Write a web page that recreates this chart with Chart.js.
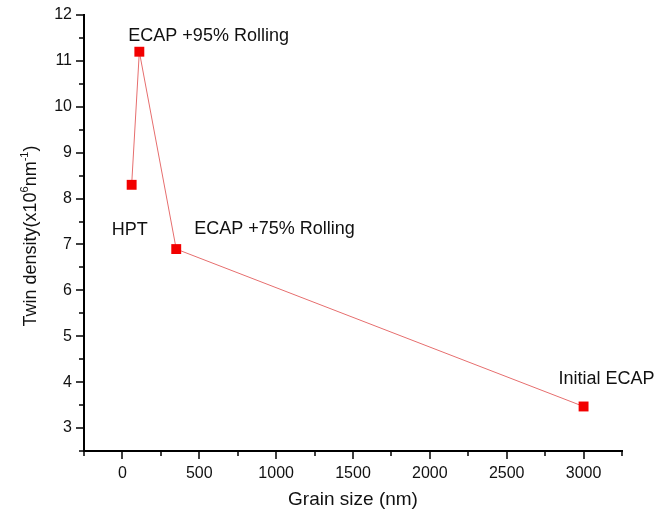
<!DOCTYPE html>
<html>
<head>
    <title>Twin density vs grain size</title>
    <style>
        html, body { margin: 0; padding: 0; background: #fff; }
        #wrap { width: 672px; height: 515px; }
    </style>
    <script src="https://cdn.jsdelivr.net/npm/chart.js"></script>
</head>
<body>
    <div id="wrap"><canvas id="chart"></canvas></div>

    <script>
        // data (line order as drawn)
        var samples = ['HPT', 'ECAP +95% Rolling', 'ECAP +75% Rolling', 'Initial ECAP'];
        var grainSize = [60, 110, 350, 3000];          // nm
        var twinDensity = [8.3, 11.2, 6.9, 3.47];       // x10^6 nm^-1

        // where each label sits relative to its point (px)
        var labelOffsets = [[-20, 50], [-11, -11], [18, -15], [-25, -22]];

        var points = grainSize.map(function(g, i) {
            return { x: g, y: twinDensity[i] };
        });

        var font = '"Liberation Sans", Arial, sans-serif';

        // minor + major tick marks, point labels and the y title
        var extras = {
            id: 'extras',
            afterDraw: function(chart) {
                var ctx = chart.ctx;
                var xs = chart.scales.x, ys = chart.scales.y;
                ctx.save();
                ctx.strokeStyle = '#000';
                ctx.lineWidth = 1.5;
                ctx.beginPath();
                xs.ticks.forEach(function(t) {
                    var px = Math.round(xs.getPixelForValue(t.value));
                    var len = (t.value % 500 === 0) ? 8 : 5;
                    ctx.moveTo(px, xs.top);
                    ctx.lineTo(px, xs.top + len);
                });
                ys.ticks.forEach(function(t) {
                    var py = Math.round(ys.getPixelForValue(t.value));
                    var len = Number.isInteger(t.value) ? 8 : 5;
                    ctx.moveTo(ys.right, py);
                    ctx.lineTo(ys.right - len, py);
                });
                ctx.stroke();

                // point labels
                var meta = chart.getDatasetMeta(0);
                ctx.fillStyle = '#111';
                ctx.font = '18px ' + font;
                ctx.textAlign = 'left';
                ctx.textBaseline = 'alphabetic';
                meta.data.forEach(function(el, i) {
                    ctx.fillText(samples[i], el.x + labelOffsets[i][0], el.y + labelOffsets[i][1]);
                });

                // y title with superscripts
                var parts = [
                    ['Twin density(x10', 18, 0],
                    ['6', 11, -8],
                    ['nm', 18, 0],
                    ['-1', 11, -8],
                    [')', 18, 0]
                ];
                var total = 0;
                parts.forEach(function(p) {
                    ctx.font = p[1] + 'px ' + font;
                    total += ctx.measureText(p[0]).width;
                });
                var cy = (chart.chartArea.top + chart.chartArea.bottom) / 2 + 3;
                ctx.translate(36, cy);
                ctx.rotate(-Math.PI / 2);
                var x = -total / 2;
                parts.forEach(function(p) {
                    ctx.font = p[1] + 'px ' + font;
                    ctx.fillText(p[0], x, p[2]);
                    x += ctx.measureText(p[0]).width;
                });
                ctx.restore();
            }
        };

        new Chart(document.getElementById('chart'), {
            type: 'scatter',
            data: {
                datasets: [{
                    data: points,
                    showLine: true,
                    borderColor: 'rgb(230, 110, 110)',
                    borderWidth: 1,
                    pointStyle: 'rect',
                    pointRadius: 7,
                    pointBackgroundColor: '#f20000',
                    pointBorderColor: '#f20000',
                    pointBorderWidth: 0
                }]
            },
            options: {
                responsive: true,
                maintainAspectRatio: false,
                animation: false,
                layout: { padding: { top: 15, right: 50, left: 0, bottom: 0 } },
                plugins: {
                    legend: { display: false },
                    tooltip: { enabled: false }
                },
                scales: {
                    x: {
                        type: 'linear',
                        min: -250,
                        max: 3250,
                        afterFit: function(s) { s.height = 64; },
                        grid: { display: false, drawTicks: true, tickLength: 7 },
                        border: { display: true, color: '#000', width: 2 },
                        ticks: {
                            stepSize: 250,
                            autoSkip: false,
                            maxRotation: 0,
                            padding: 6,
                            color: '#111',
                            font: { family: font, size: 16 },
                            callback: function(v) { return (v % 500 === 0 && v >= 0) ? String(v) : ''; }
                        },
                        title: {
                            display: true,
                            text: 'Grain size (nm)',
                            color: '#111',
                            font: { family: font, size: 19 },
                            padding: { top: 0, bottom: 4 }
                        }
                    },
                    y: {
                        min: 2.5,
                        max: 12,
                        afterFit: function(s) { s.width = 84; },
                        grid: { display: false, drawTicks: true, tickLength: 7 },
                        border: { display: true, color: '#000', width: 2 },
                        ticks: {
                            stepSize: 0.5,
                            autoSkip: false,
                            padding: 5,
                            color: '#111',
                            font: { family: font, size: 16 },
                            callback: function(v) { return Number.isInteger(v) ? String(v) : ''; }
                        }
                    }
                }
            },
            plugins: [extras]
        });
    </script>
</body>
</html>
